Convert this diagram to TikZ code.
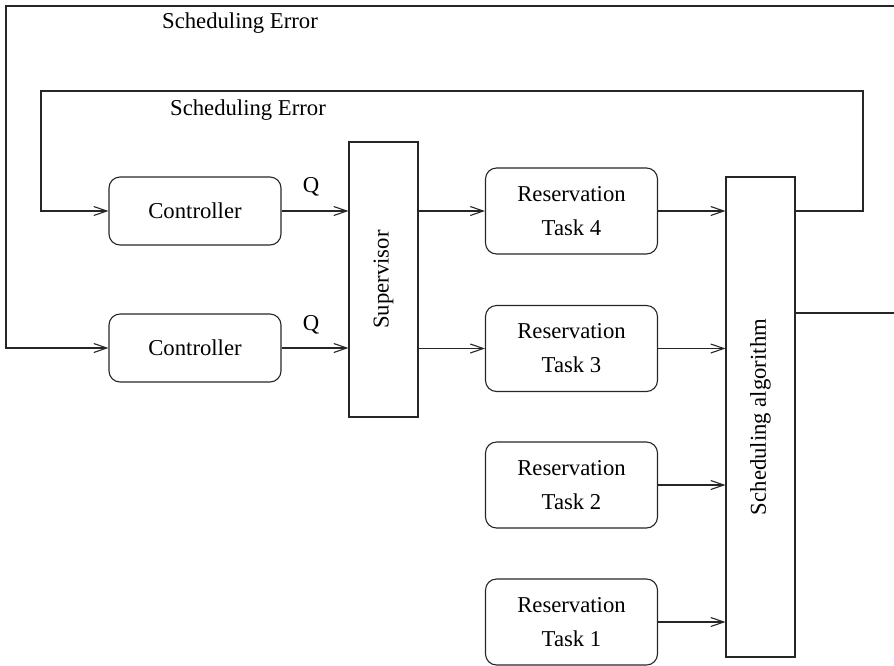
\documentclass[tikz,border=0pt]{standalone}
\usepackage{fontspec}
\setmainfont{Liberation Serif}
\usetikzlibrary{arrows.meta}
\begin{document}
\begin{tikzpicture}[x=1pt,y=-1pt,
  every node/.style={font=\fontsize{22.7}{34}\selectfont},
  ln/.style={line width=1.1pt,draw=black!85},
  arr/.style={ln,-{Straight Barb[length=13pt,width=9pt,line width=1.1pt]}},
  rbox/.style={ln,rounded corners=11pt,minimum width=172pt,inner sep=0pt,align=center},
  pbox/.style={ln,rectangle,inner sep=0pt}
]
\useasboundingbox (0,0) rectangle (894,665);
% controllers
\node[rbox,minimum height=68pt] (c1) at (195,211) {Controller};
\node[rbox,minimum height=68pt] (c2) at (195,348) {Controller};
% supervisor
\node[pbox,minimum width=69pt,minimum height=275pt] (sup) at (383.5,279.5) {};
\node[rotate=90] (suptext) at (sup.center) {Supervisor};
% reservations
\node[rbox,minimum height=86pt] (r4) at (571.5,211) {Reservation\\Task 4};
\node[rbox,minimum height=86pt] (r3) at (571.5,348.5) {Reservation\\Task 3};
\node[rbox,minimum height=86pt] (r2) at (571.5,485) {Reservation\\Task 2};
\node[rbox,minimum height=86pt] (r1) at (571.5,622) {Reservation\\Task 1};
% scheduling algorithm
\node[pbox,minimum width=69pt,minimum height=480pt] (sch) at (760.5,417) {};
\node[rotate=90] (schtext) at (sch.center) {Scheduling algorithm};
% labels
\node (q1) at (311,187) {Q};
\node (q2) at (311,325) {Q};
\node (se1) at (240,23) {Scheduling Error};
\node (se2) at (248,110) {Scheduling Error};
% coordinates
\coordinate (oR) at (894,6);
\coordinate (oL) at (6,348);
\coordinate (iR) at (863,91);
\coordinate (iL) at (41,91);
\coordinate (outR) at (894,313);
% connectors
\draw[arr] (c1.east) -- (sup.west |- c1.east);
\draw[arr] (c2.east) -- (sup.west |- c2.east);
\draw[arr] (sup.east |- r4.west) -- (r4.west);
\draw[arr] (sup.east |- r3.west) -- (r3.west);
\draw[arr] (r4.east) -- (sch.west |- r4.east);
\draw[arr] (r3.east) -- (sch.west |- r3.east);
\draw[arr] (r2.east) -- (sch.west |- r2.east);
\draw[arr] (r1.east) -- (sch.west |- r1.east);
\draw[arr] (sch.east |- r4.east) -| (iR) -- (iL) |- (c1.west);
\draw[arr] (oR) -| (oL) -- (c2.west);
\draw[ln] (sch.east |- outR) -- (outR);
\end{tikzpicture}
\end{document}
